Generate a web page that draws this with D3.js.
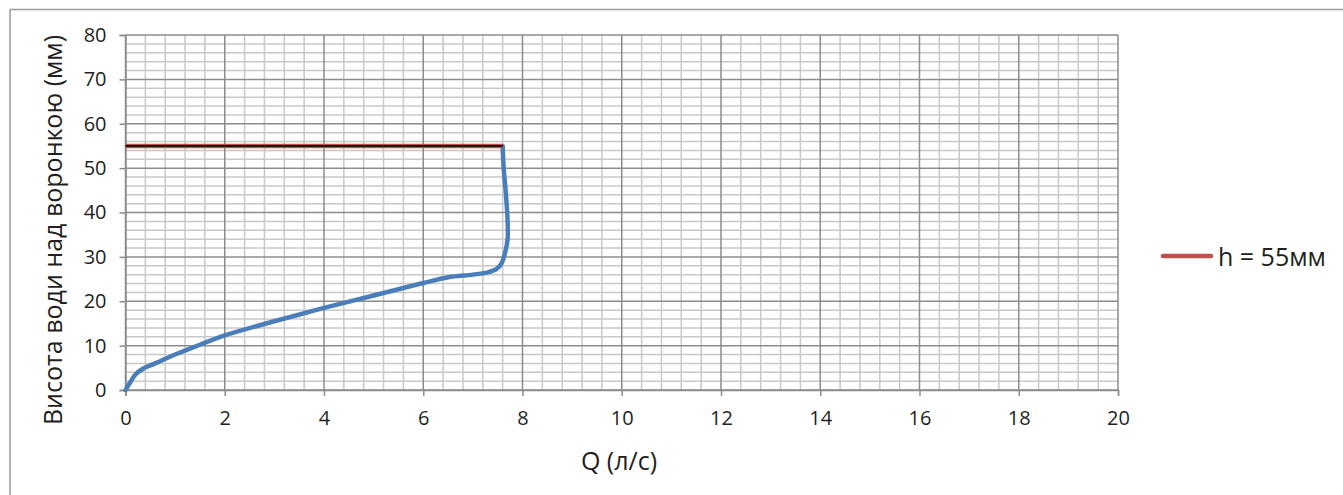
<!doctype html>
<html lang="uk">
<head>
<meta charset="utf-8">
<title>chart</title>
<style>
  body { margin: 0; background: #fff; }
  svg { display: block; font-family: "Open Sans", "Noto Sans", sans-serif; }
  .tick text { fill: #231f20; }
</style>
</head>
<body>
<div id="chart"></div>
<script src="https://d3js.org/d3.v7.min.js"></script>
<script>
// data
var qValues = [0, 0.1, 0.2, 0.35, 0.6, 1, 1.5, 2, 3, 4, 5, 5.5, 6, 6.5, 7, 7.3, 7.48, 7.58, 7.65, 7.7, 7.7, 7.66, 7.62, 7.6];
var hValues = [0, 1.8, 3.5, 4.8, 6, 8, 10.2, 12.3, 15.5, 18.5, 21.3, 22.7, 24.1, 25.4, 26, 26.5, 27.3, 28.6, 31, 34, 38, 45, 50, 55];
var limitQ = [0, 7.6];
var limitH = [55, 55];
var xTicks = [0, 2, 4, 6, 8, 10, 12, 14, 16, 18, 20];
var yTicks = [0, 10, 20, 30, 40, 50, 60, 70, 80];
var legendLabel = "h = 55мм";

var width = 1343, height = 495;
var margin = {top: 35, left: 125.5, right: 1343 - 1118, bottom: 495 - 390};
var pw = width - margin.left - margin.right,
    ph = height - margin.top - margin.bottom;

var svg = d3.select("#chart").append("svg")
    .attr("width", width)
    .attr("height", height);

// frame (only top and left edges show)
svg.append("line").attr("x1", 10).attr("x2", width).attr("y1", 9.5).attr("y2", 9.5)
   .attr("stroke", "#999").attr("stroke-width", 1.5);
svg.append("line").attr("x1", 10).attr("x2", 10).attr("y1", 9.5).attr("y2", height)
   .attr("stroke", "#999").attr("stroke-width", 1.5);

var x = d3.scaleLinear().domain([0, 20]).range([0, pw]);
var y = d3.scaleLinear().domain([0, 80]).range([ph, 0]);

var g = svg.append("g").attr("transform", "translate(" + margin.left + "," + margin.top + ")");

// minor grid
var minorX = d3.range(0, 20.001, 0.4).filter(function(d) { return Math.abs(d / 2 - Math.round(d / 2)) > 1e-6; });
var minorY = d3.range(0, 80.001, 2).filter(function(d) { return d % 10 !== 0; });
g.append("g").selectAll("line").data(minorX).enter().append("line")
   .attr("x1", d => x(d)).attr("x2", d => x(d)).attr("y1", 0).attr("y2", ph)
   .attr("stroke", "#c8c8c8").attr("stroke-width", 1.5);
g.append("g").selectAll("line").data(minorY).enter().append("line")
   .attr("x1", 0).attr("x2", pw).attr("y1", d => y(d)).attr("y2", d => y(d))
   .attr("stroke", "#c8c8c8").attr("stroke-width", 1.5);
// major grid
g.append("g").selectAll("line").data(xTicks).enter().append("line")
   .attr("x1", d => x(d)).attr("x2", d => x(d)).attr("y1", 0).attr("y2", ph)
   .attr("stroke", "#8c8c8c").attr("stroke-width", 1.5);
g.append("g").selectAll("line").data(yTicks).enter().append("line")
   .attr("x1", 0).attr("x2", pw).attr("y1", d => y(d)).attr("y2", d => y(d))
   .attr("stroke", "#8c8c8c").attr("stroke-width", 1.5);

// axes
var xAxis = g.append("g").attr("transform", "translate(0," + ph + ")")
   .call(d3.axisBottom(x).tickValues(xTicks).tickSize(6).tickPadding(15).tickFormat(d3.format("d")));
var yAxis = g.append("g")
   .call(d3.axisLeft(y).tickValues(yTicks).tickSize(6).tickPadding(13).tickFormat(d3.format("d")));
[xAxis, yAxis].forEach(function(a) {
  a.attr("font-size", 20).attr("font-family", "'Open Sans', sans-serif");
  a.select(".domain").attr("stroke", "#8c8c8c").attr("stroke-width", 1.5);
  a.selectAll(".tick line").attr("stroke", "#8c8c8c").attr("stroke-width", 1.5);
});

// series
var line = d3.line().x(d => x(d[0])).y(d => y(d[1]));
var curvePts = d3.zip(qValues, hValues);
g.append("path").datum(curvePts)
   .attr("d", line.curve(d3.curveCatmullRom.alpha(0.5)))
   .attr("fill", "none").attr("stroke", "#4a7ebb").attr("stroke-width", 4.5)
   .attr("stroke-linecap", "round").attr("stroke-linejoin", "round");

var limitPts = d3.zip(limitQ, limitH);
var straight = d3.line().x(d => x(d[0])).y(d => y(d[1]));
g.append("path").datum(limitPts).attr("d", straight)
   .attr("fill", "none").attr("stroke", "#c0504d").attr("stroke-width", 4.5);
g.append("path").datum(limitPts).attr("d", straight)
   .attr("fill", "none").attr("stroke", "#000").attr("stroke-width", 1.8);

// axis titles
svg.append("text")
   .attr("x", 619).attr("y", 470)
   .attr("text-anchor", "middle").attr("font-size", 25).attr("fill", "#231f20")
   .text("Q (л/с)");
svg.append("text")
   .attr("transform", "translate(62,230) rotate(-90)")
   .attr("text-anchor", "middle").attr("font-size", 25).attr("fill", "#231f20")
   .text("Висота води над воронкою (мм)");

// legend
var lg = svg.append("g").attr("transform", "translate(1163,256)");
lg.append("line").attr("x1", 0).attr("x2", 48).attr("y1", 0).attr("y2", 0)
   .attr("stroke", "#c0504d").attr("stroke-width", 4.5).attr("stroke-linecap", "round");
lg.append("text").attr("x", 55).attr("y", 10).attr("font-size", 25).attr("fill", "#231f20")
   .text(legendLabel);
</script>
</body>
</html>
